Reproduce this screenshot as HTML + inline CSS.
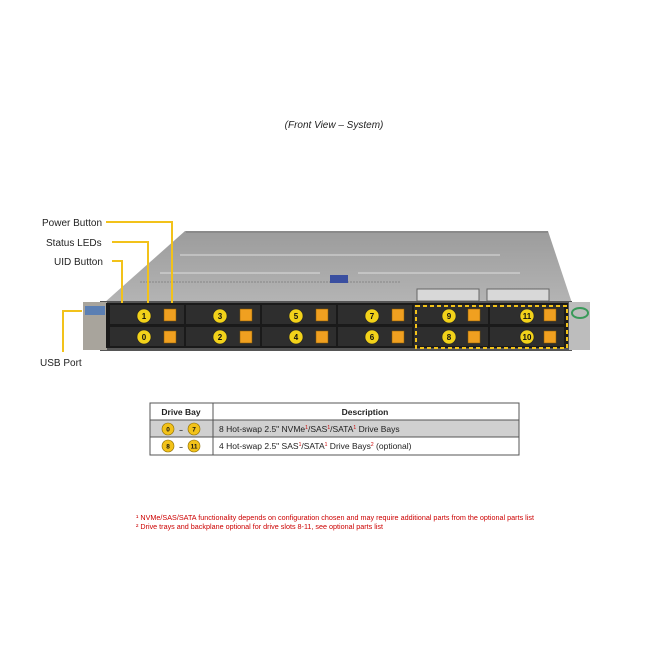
<!DOCTYPE html>
<html><head><style>
body{margin:0;background:#fff;width:654px;height:651px;overflow:hidden;font-family:"Liberation Sans",sans-serif}
</style></head><body>
<svg width="654" height="651" viewBox="0 0 654 651" xmlns="http://www.w3.org/2000/svg" font-family="Liberation Sans, sans-serif">
<text x="334" y="128" font-size="10" font-style="italic" text-anchor="middle" fill="#222">(Front View – System)</text>
<defs><linearGradient id="top" x1="0" y1="0" x2="0" y2="1"><stop offset="0" stop-color="#9c9c9c"/><stop offset="1" stop-color="#b4b4b4"/></linearGradient></defs>
<polygon points="185,231 548,231 572,303 104,303" fill="url(#top)"/>
<line x1="186" y1="232" x2="548" y2="232" stroke="#777"/>
<line x1="180" y1="255" x2="500" y2="255" stroke="#ddd" stroke-width="1"/>
<line x1="160" y1="273" x2="320" y2="273" stroke="#ddd"/>
<line x1="358" y1="273" x2="520" y2="273" stroke="#ddd"/>
<line x1="140" y1="282" x2="400" y2="282" stroke="#888" stroke-dasharray="2,1"/>
<rect x="330" y="275" width="18" height="8" fill="#3a4fa0"/>
<rect x="417" y="289" width="62" height="12" fill="#d8d8d8" stroke="#666"/>
<rect x="487" y="289" width="62" height="12" fill="#d8d8d8" stroke="#666"/>
<rect x="100" y="301" width="472" height="50" fill="#555"/>
<rect x="83" y="302" width="24" height="48" fill="#a8a49c"/>
<rect x="85" y="306" width="20" height="9" fill="#5b7fb3"/>
<rect x="569" y="302" width="21" height="48" fill="#bdbdbd"/>
<ellipse cx="580" cy="313" rx="8" ry="5" fill="none" stroke="#3a9a5a" stroke-width="2"/>
<rect x="106" y="303" width="462" height="45" fill="#1a1a1a"/>
<g>
<rect x="110" y="305" width="74" height="19" fill="#2e2e2e"/><rect x="110" y="327" width="74" height="19" fill="#2e2e2e"/>
<rect x="186" y="305" width="74" height="19" fill="#2e2e2e"/><rect x="186" y="327" width="74" height="19" fill="#2e2e2e"/>
<rect x="262" y="305" width="74" height="19" fill="#2e2e2e"/><rect x="262" y="327" width="74" height="19" fill="#2e2e2e"/>
<rect x="338" y="305" width="74" height="19" fill="#2e2e2e"/><rect x="338" y="327" width="74" height="19" fill="#2e2e2e"/>
<rect x="414" y="305" width="74" height="19" fill="#2e2e2e"/><rect x="414" y="327" width="74" height="19" fill="#2e2e2e"/>
<rect x="490" y="305" width="74" height="19" fill="#2e2e2e"/><rect x="490" y="327" width="74" height="19" fill="#2e2e2e"/>
</g>
<g fill="#f0a020" stroke="#8a5a00" stroke-width="0.5">
<rect x="164" y="309" width="12" height="12"/><rect x="164" y="331" width="12" height="12"/>
<rect x="240" y="309" width="12" height="12"/><rect x="240" y="331" width="12" height="12"/>
<rect x="316" y="309" width="12" height="12"/><rect x="316" y="331" width="12" height="12"/>
<rect x="392" y="309" width="12" height="12"/><rect x="392" y="331" width="12" height="12"/>
<rect x="468" y="309" width="12" height="12"/><rect x="468" y="331" width="12" height="12"/>
<rect x="544" y="309" width="12" height="12"/><rect x="544" y="331" width="12" height="12"/>
</g>
<g fill="#f2d21a" stroke="#222" stroke-width="0.6">
<circle cx="144" cy="316" r="7"/><circle cx="144" cy="337" r="7"/>
<circle cx="220" cy="316" r="7"/><circle cx="220" cy="337" r="7"/>
<circle cx="296" cy="316" r="7"/><circle cx="296" cy="337" r="7"/>
<circle cx="372" cy="316" r="7"/><circle cx="372" cy="337" r="7"/>
<circle cx="449" cy="316" r="7"/><circle cx="449" cy="337" r="7"/>
<circle cx="527" cy="316" r="7"/><circle cx="527" cy="337" r="7"/>
</g>
<g font-size="8" font-weight="bold" text-anchor="middle" fill="#111">
<text x="144" y="319">1</text><text x="144" y="340">0</text>
<text x="220" y="319">3</text><text x="220" y="340">2</text>
<text x="296" y="319">5</text><text x="296" y="340">4</text>
<text x="372" y="319">7</text><text x="372" y="340">6</text>
<text x="449" y="319">9</text><text x="449" y="340">8</text>
<text x="527" y="319">11</text><text x="527" y="340">10</text>
</g>
<rect x="416" y="306" width="151" height="42" fill="none" stroke="#f2c21a" stroke-width="2" stroke-dasharray="4,3"/>
<g stroke="#f2c21a" stroke-width="2" fill="none">
<polyline points="106,222 172,222 172,303"/>
<polyline points="112,242 148,242 148,303"/>
<polyline points="112,261 122,261 122,303"/>
<polyline points="63,352 63,311 82,311"/>
</g>
<g font-size="10" fill="#222">
<text x="42" y="226">Power Button</text>
<text x="46" y="246">Status LEDs</text>
<text x="54" y="265">UID Button</text>
<text x="40" y="366">USB Port</text>
</g>
<rect x="150" y="403" width="369" height="52" fill="#fff" stroke="#555"/>
<rect x="150" y="420" width="369" height="17" fill="#d0d0d0"/>
<g stroke="#555" fill="none"><line x1="150" y1="420" x2="519" y2="420"/><line x1="150" y1="437" x2="519" y2="437"/><line x1="213" y1="403" x2="213" y2="455"/><rect x="150" y="403" width="369" height="52"/></g>
<g font-size="8.5" fill="#222">
<text x="181" y="415" text-anchor="middle" font-weight="bold">Drive Bay</text>
<text x="365" y="415" text-anchor="middle" font-weight="bold">Description</text>
<text x="219" y="432">8 Hot-swap 2.5" NVMe<tspan fill="#c00" font-size="5" dy="-3">1</tspan><tspan dy="3">/SAS</tspan><tspan fill="#c00" font-size="5" dy="-3">1</tspan><tspan dy="3">/SATA</tspan><tspan fill="#c00" font-size="5" dy="-3">1</tspan><tspan dy="3"> Drive Bays</tspan></text>
<text x="219" y="449">4 Hot-swap 2.5" SAS<tspan fill="#c00" font-size="5" dy="-3">1</tspan><tspan dy="3">/SATA</tspan><tspan fill="#c00" font-size="5" dy="-3">1</tspan><tspan dy="3"> Drive Bays</tspan><tspan fill="#c00" font-size="5" dy="-3">2</tspan><tspan dy="3"> (optional)</tspan></text>
</g>
<g fill="#f2c21a" stroke="#8a6a00" stroke-width="0.6">
<circle cx="168" cy="429" r="6"/><circle cx="194" cy="429" r="6"/>
<circle cx="168" cy="446" r="6"/><circle cx="194" cy="446" r="6"/>
</g>
<g font-size="6.5" font-weight="bold" text-anchor="middle" fill="#111">
<text x="168" y="431.5">0</text><text x="181" y="432">–</text><text x="194" y="431.5">7</text>
<text x="168" y="448.5">8</text><text x="181" y="449">–</text><text x="194" y="448.5">11</text>
</g>
<g font-size="7" fill="#c00">
<text x="136" y="520" textLength="398" lengthAdjust="spacingAndGlyphs">¹ NVMe/SAS/SATA functionality depends on configuration chosen and may require additional parts from the optional parts list</text>
<text x="136" y="529" textLength="247" lengthAdjust="spacingAndGlyphs">² Drive trays and backplane optional  for drive slots 8-11, see optional parts list</text>
</g>
</svg>
</body></html>
